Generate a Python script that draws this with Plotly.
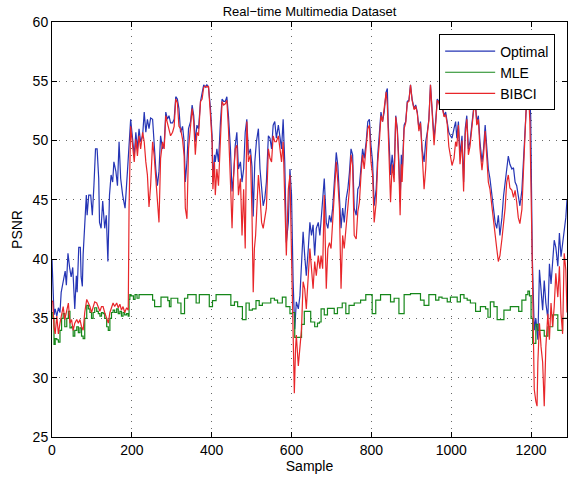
import plotly.graph_objects as go

# ---------------- data ----------------
opt_x = [0, 3, 5, 8, 12, 16, 20, 23, 27, 30, 33, 36, 40, 44, 48, 52, 55, 57, 61, 63, 67, 71, 73, 76, 78,
         82, 86, 88, 92, 97, 101, 105, 109, 113, 117, 119, 123, 127, 132, 136, 140, 144, 148, 152, 155,
         160, 164, 168, 172, 177, 183, 189, 193, 197, 202, 206, 210, 214, 218, 222, 227, 231, 235, 239,
         243, 247, 252, 256, 260, 264, 268, 272, 277, 281, 285, 289, 293, 297, 302, 306, 310, 314, 318,
         322, 327, 331, 334, 338, 342, 347, 351, 355, 359, 363, 367, 372, 376, 380, 384, 388, 392, 397,
         401, 403, 407, 409, 413, 417, 422, 426, 430, 434, 438, 442, 447, 451, 455, 459, 463, 467, 472,
         476, 480, 484, 488, 492, 497, 501, 504, 508, 512, 517, 521, 525, 529, 533, 537, 542, 546, 550,
         554, 558, 562, 567, 571, 575, 579, 583, 587, 592, 596, 600, 604, 608, 612, 617, 621, 625, 629,
         633, 637, 642, 646, 650, 654, 658, 662, 667, 671, 675, 679, 682, 687, 691, 695, 699, 703, 707,
         712, 716, 720, 724, 728, 732, 737, 741, 745, 749, 753, 757, 762, 766, 770, 774, 778, 782, 787,
         791, 795, 799, 803, 807, 812, 816, 820, 824, 828, 832, 837, 840, 842, 845, 848, 852, 857, 861,
         865, 869, 872, 875, 877, 882, 886, 890, 894, 898, 902, 907, 911, 915, 919, 923, 927, 932, 936,
         940, 944, 948, 952, 957, 961, 965, 969, 973, 977, 982, 986, 990, 994, 998, 1002, 1007, 1011,
         1014, 1018, 1022, 1027, 1031, 1035, 1039, 1043, 1047, 1052, 1056, 1060, 1064, 1068, 1072, 1077,
         1081, 1085, 1089, 1093, 1097, 1102, 1106, 1110, 1114, 1118, 1122, 1127, 1131, 1135, 1139, 1143,
         1147, 1152, 1156, 1160, 1164, 1168, 1172, 1177, 1181, 1185, 1189, 1192, 1195, 1199, 1203, 1206,
         1208, 1212, 1217, 1221, 1225, 1229, 1233, 1237, 1242, 1246, 1250, 1254, 1258, 1262, 1267, 1271,
         1275, 1279, 1283, 1287, 1290]
opt_y = [40.0, 37.0, 35.3, 35.8, 35.2, 35.9, 35.5, 37.2, 38.0, 38.6, 39.0, 37.8, 40.5, 39.3, 38.5, 39.3,
         37.5, 35.8, 38.6, 37.2, 41.0, 41.0, 38.5, 37.7, 40.4, 42.6, 45.4, 43.7, 45.4, 45.4, 43.7, 46.2,
         49.3, 49.3, 46.8, 43.1, 42.6, 44.9, 42.6, 43.7, 39.8, 45.4, 47.1, 46.5, 48.2, 47.4, 46.2, 49.9,
         46.8, 45.4, 44.3, 47.4, 49.3, 51.8, 50.1, 48.7, 50.7, 49.3, 51.0, 49.9, 50.4, 52.4, 50.7, 51.8,
         51.0, 51.9, 51.8, 49.3, 47.6, 46.2, 47.4, 50.4, 49.3, 49.6, 52.4, 51.8, 52.1, 51.5, 51.5, 51.8,
         53.7, 53.5, 52.7, 50.7, 51.2, 49.9, 46.5, 48.2, 51.0, 51.6, 53.0, 52.1, 49.9, 51.3, 51.0, 53.3,
         54.1, 54.7, 54.5, 54.7, 54.5, 52.7, 50.4, 46.5, 48.8, 48.2, 49.3, 48.2, 51.6, 53.5, 53.3, 53.3,
         53.7, 52.1, 49.3, 45.7, 47.1, 49.6, 50.7, 47.6, 48.2, 46.5, 47.6, 50.7, 51.8, 48.8, 49.3, 47.8,
         43.6, 48.2, 49.9, 51.0, 47.6, 46.2, 44.5, 45.1, 46.5, 50.4, 50.2, 49.3, 51.3, 51.6, 50.2, 51.3,
         50.4, 49.3, 51.8, 48.2, 41.4, 43.1, 47.6, 45.4, 38.1, 34.1, 36.4, 35.8, 36.9, 39.8, 42.3, 40.3,
         38.6, 40.9, 43.1, 42.0, 42.9, 40.3, 42.6, 43.1, 42.0, 43.7, 45.4, 46.8, 43.1, 42.6, 43.7, 43.1,
         44.3, 46.5, 49.0, 47.9, 45.4, 42.6, 44.3, 43.1, 45.1, 45.9, 47.3, 49.3, 48.8, 44.3, 43.7, 45.9,
         46.2, 48.2, 49.3, 48.5, 49.9, 51.6, 51.8, 49.6, 48.2, 44.5, 45.9, 48.8, 50.7, 52.4, 51.6, 52.4,
         54.1, 54.4, 51.6, 48.8, 47.1, 48.8, 47.1, 52.1, 51.0, 48.2, 44.8, 48.8, 47.1, 51.3, 51.6, 53.3,
         53.4, 54.7, 53.5, 52.7, 53.0, 52.4, 51.0, 51.6, 49.3, 48.2, 49.9, 50.7, 51.8, 54.7, 52.7, 50.2,
         51.6, 53.5, 53.3, 52.7, 53.0, 52.1, 52.4, 51.6, 50.7, 50.4, 50.2, 51.0, 51.6, 50.2, 51.6, 48.8,
         50.4, 46.5, 51.0, 52.1, 49.3, 49.9, 51.6, 52.7, 53.3, 51.6, 52.1, 49.9, 48.2, 49.3, 51.3, 49.3,
         47.6, 46.8, 45.4, 44.3, 43.1, 42.6, 43.7, 42.0, 43.5, 45.3, 46.4, 47.5, 48.7, 48.0, 47.6, 47.7,
         46.5, 46.2, 45.2, 44.5, 45.8, 48.6, 51.5, 54.0, 55.3, 54.6, 52.1, 40.3, 36.0, 34.0, 35.0, 33.2,
         39.1, 37.4, 35.7, 38.2, 36.3, 35.0, 39.6, 37.9, 39.6, 41.6, 41.0, 39.4, 42.2, 40.2, 41.3, 42.5,
         43.5, 45.0]

bib_x = [0, 2, 5, 8, 12, 16, 20, 24, 28, 32, 37, 41, 45, 49, 53, 57, 62, 66, 70, 74, 78, 82, 87, 91, 95,
         99, 103, 107, 112, 116, 120, 124, 128, 132, 137, 141, 145, 149, 153, 157, 162, 166, 170, 174,
         178, 182, 187, 191, 193, 197, 202, 206, 210, 214, 218, 222, 227, 231, 235, 239, 243, 247, 252,
         256, 260, 264, 268, 272, 277, 281, 285, 289, 293, 297, 302, 306, 310, 314, 318, 322, 327, 331,
         334, 338, 342, 347, 351, 355, 359, 363, 367, 372, 376, 380, 384, 388, 392, 397, 401, 403, 407,
         409, 413, 417, 422, 426, 430, 434, 438, 442, 447, 451, 455, 459, 463, 467, 472, 476, 480, 484,
         488, 492, 497, 501, 504, 507, 510, 513, 517, 521, 525, 529, 533, 537, 542, 546, 550, 554, 558,
         562, 567, 571, 575, 579, 583, 587, 592, 596, 600, 604, 607, 610, 612, 617, 621, 625, 629, 633,
         637, 642, 646, 650, 654, 658, 662, 667, 671, 674, 678, 682, 687, 691, 695, 699, 703, 707, 712,
         716, 720, 724, 728, 732, 737, 741, 745, 749, 753, 757, 762, 766, 770, 774, 778, 782, 787, 791,
         795, 799, 803, 807, 812, 816, 820, 824, 828, 832, 837, 840, 842, 845, 848, 852, 857, 861, 865,
         869, 872, 875, 877, 882, 886, 890, 894, 898, 902, 907, 911, 915, 919, 923, 927, 932, 936, 940,
         944, 948, 952, 957, 961, 965, 969, 973, 977, 982, 986, 990, 994, 998, 1002, 1007, 1011, 1014,
         1018, 1022, 1027, 1031, 1035, 1039, 1043, 1047, 1052, 1056, 1060, 1064, 1068, 1072, 1077, 1081,
         1085, 1089, 1093, 1097, 1102, 1106, 1110, 1114, 1118, 1122, 1127, 1131, 1135, 1139, 1143, 1147,
         1152, 1156, 1160, 1164, 1168, 1172, 1177, 1181, 1185, 1189, 1191, 1194, 1197, 1202, 1206, 1208,
         1212, 1215, 1217, 1221, 1225, 1229, 1233, 1237, 1242, 1246, 1250, 1254, 1258, 1262, 1267, 1271,
         1275, 1279, 1283, 1287, 1290]
bib_y = [36.5, 36.4, 34.3, 33.7, 35.2, 33.7, 34.6, 35.5, 36.0, 34.9, 35.7, 36.3, 34.6, 34.9, 34.0, 34.6,
         34.9, 34.6, 34.9, 34.3, 34.0, 35.5, 36.6, 36.3, 36.0, 35.5, 36.0, 36.4, 36.3, 36.0, 35.6, 36.0,
         36.0, 35.5, 34.9, 34.6, 35.5, 36.0, 36.3, 36.0, 36.3, 35.9, 36.2, 35.7, 36.0, 35.5, 35.9, 35.7,
         44.3, 51.2, 49.3, 48.2, 50.1, 48.7, 50.4, 49.3, 50.7, 49.9, 48.2, 47.1, 44.4, 46.2, 49.9, 48.7,
         46.8, 44.5, 43.1, 48.5, 49.9, 49.3, 52.1, 51.5, 51.0, 50.4, 50.7, 51.2, 53.5, 53.2, 51.2, 51.0,
         50.1, 48.7, 44.3, 43.4, 49.3, 51.0, 52.7, 51.6, 48.8, 50.7, 50.4, 53.3, 53.5, 54.5, 54.6, 54.5,
         54.6, 52.1, 49.9, 45.9, 48.2, 45.4, 47.6, 46.2, 51.0, 53.3, 53.0, 53.1, 53.4, 51.0, 46.5, 42.6,
         47.1, 49.3, 49.6, 45.4, 46.8, 42.0, 45.9, 40.9, 51.6, 48.2, 48.8, 43.7, 37.2, 40.9, 42.0, 44.3,
         47.1, 45.4, 43.1, 42.6, 43.4, 44.3, 49.3, 48.5, 48.2, 50.4, 49.9, 49.9, 50.4, 49.3, 48.2, 49.9,
         44.3, 40.3, 45.9, 47.1, 40.3, 34.7, 28.7, 32.4, 33.6, 31.0, 32.4, 34.1, 38.1, 37.5, 35.8, 38.6,
         40.9, 39.2, 37.5, 39.8, 38.6, 40.3, 39.2, 40.3, 39.2, 45.4, 37.5, 40.9, 41.4, 40.9, 43.1, 45.4,
         48.2, 46.5, 44.3, 37.5, 42.0, 40.9, 42.6, 44.3, 45.9, 48.8, 47.9, 42.0, 41.7, 44.0, 44.8, 47.1,
         48.8, 47.6, 49.3, 51.0, 51.3, 48.2, 47.1, 43.1, 44.8, 48.2, 49.9, 52.1, 51.6, 52.7, 54.1, 53.0,
         50.5, 47.0, 44.8, 48.0, 46.5, 52.0, 50.8, 47.5, 43.7, 48.0, 46.5, 51.0, 51.5, 53.2, 53.3, 54.7,
         53.4, 52.6, 52.9, 52.3, 50.8, 51.5, 48.8, 45.9, 47.6, 50.5, 51.7, 54.7, 52.5, 49.6, 51.4, 53.4,
         53.2, 52.6, 52.9, 52.0, 52.2, 51.4, 49.5, 48.8, 47.9, 48.5, 49.9, 49.5, 51.3, 48.0, 50.0, 45.7,
         50.5, 51.8, 48.8, 49.5, 51.3, 52.5, 53.4, 51.3, 51.8, 49.3, 47.5, 48.8, 50.8, 48.6, 46.5, 45.9,
         44.3, 43.1, 42.0, 40.9, 39.8, 40.3, 41.7, 43.1, 44.3, 46.5, 47.1, 46.0, 45.8, 45.2, 45.8, 44.8,
         43.5, 43.0, 44.2, 47.5, 50.5, 54.0, 55.3, 53.8, 51.6, 41.7, 30.1, 29.0, 28.0, 27.6, 31.3, 34.6,
         32.6, 31.3, 27.6, 32.6, 35.4, 33.2, 36.3, 34.3, 36.0, 38.8, 36.8, 39.4, 35.4, 33.7, 40.5, 39.1,
         35.5]

mle_x = [0, 2, 5, 8, 12, 16, 20, 24, 28, 32, 37, 41, 45, 49, 53, 57, 62, 66, 70, 74, 78, 82, 87, 91, 95,
         99, 103, 107, 112, 116, 120, 124, 128, 132, 137, 141, 145, 149, 153, 157, 162, 166, 170, 174,
         178, 182, 187, 191, 193, 195, 198, 204, 208, 213, 218, 252, 257, 273, 290, 294, 298, 315, 323,
         332, 340, 361, 369, 394, 402, 411, 448, 457, 465, 477, 486, 494, 502, 511, 519, 527, 548, 557,
         565, 577, 586, 596, 602, 608, 625, 632, 648, 658, 665, 670, 674, 682, 690, 707, 715, 727, 736,
         744, 757, 773, 786, 802, 811, 823, 848, 857, 869, 882, 898, 923, 932, 944, 961, 969, 977, 990,
         998, 1015, 1023, 1032, 1040, 1048, 1061, 1073, 1086, 1092, 1098, 1107, 1115, 1132, 1148, 1169,
         1177, 1187, 1192, 1196, 1200, 1204, 1212, 1217, 1233, 1242, 1254, 1267, 1279, 1290]
mle_y = [35.5, 35.0, 32.8, 33.3, 33.2, 33.0, 34.0, 35.0, 35.4, 34.3, 35.0, 35.6, 34.2, 34.3, 33.5, 34.0,
         34.3, 33.8, 34.2, 33.5, 33.3, 35.0, 36.1, 35.8, 35.5, 35.0, 35.5, 35.9, 35.6, 35.4, 35.2, 35.5,
         35.4, 35.0, 34.3, 34.0, 35.0, 35.5, 35.7, 35.5, 35.8, 35.4, 35.6, 35.2, 35.5, 35.3, 35.4, 35.2,
         36.6, 37.0, 36.9, 36.6, 37.0, 36.7, 37.0, 36.55, 36.0, 36.8, 36.5, 36.0, 36.7, 36.3, 35.4,
         36.7, 37.0, 36.3, 37.0, 36.0, 36.5, 37.0, 36.1, 36.4, 36.0, 34.9, 36.3, 35.7, 35.8, 36.5, 36.1,
         36.3, 36.7, 36.55, 36.3, 36.8, 36.0, 35.4, 35.5, 33.4, 34.5, 35.6, 34.7, 34.3, 34.6, 34.7,
         35.8, 35.3, 35.85, 35.4, 35.9, 36.3, 35.4, 36.1, 36.3, 36.55, 37.0, 35.4, 36.55, 37.0, 36.4,
         36.7, 35.4, 37.0, 37.1, 36.55, 36.1, 37.0, 36.55, 36.8, 36.7, 36.4, 36.8, 36.4, 37.0, 36.7,
         36.55, 36.3, 35.6, 36.0, 35.8, 35.1, 36.4, 36.0, 34.9, 35.7, 36.0, 35.6, 36.55, 37.0, 37.3,
         36.9, 35.0, 32.9, 34.5, 34.0, 33.5, 34.3, 35.3, 34.0, 35.0, 35.0]

x_ticks = [0, 200, 400, 600, 800, 1000, 1200]
y_ticks = [25, 30, 35, 40, 45, 50, 55, 60]

# ---------------- figure ----------------
font_family = "Liberation Sans, Arial, Helvetica, sans-serif"

fig = go.Figure()
fig.add_trace(go.Scatter(x=opt_x, y=opt_y, mode="lines", name="Optimal",
                         line=dict(color="#2535b5", width=1.2)))
fig.add_trace(go.Scatter(x=mle_x, y=mle_y, mode="lines", name="MLE", line_shape="hv",
                         line=dict(color="#16871a", width=1.2)))
fig.add_trace(go.Scatter(x=bib_x, y=bib_y, mode="lines", name="BIBCI",
                         line=dict(color="#e8262a", width=1.2)))

axis_common = dict(
    showline=True, linecolor="black", linewidth=1, mirror="allticks",
    ticks="inside", ticklen=5, tickcolor="black",
    showgrid=True, gridcolor="rgba(40,40,40,0.7)", gridwidth=1, griddash="1px,6px",
    zeroline=False, tickfont=dict(size=14, color="black", family=font_family),
)

fig.update_xaxes(range=[0, 1290], tickvals=x_ticks,
                 title=dict(text="Sample", font=dict(size=14, color="black", family=font_family),
                            standoff=4),
                 **axis_common)
fig.update_yaxes(range=[25, 60], tickvals=y_ticks,
                 title=dict(text="PSNR", font=dict(size=14, color="black", family=font_family),
                            standoff=6),
                 **axis_common)

fig.update_layout(
    width=568, height=484,
    margin=dict(l=52, r=1, t=22, b=47),
    paper_bgcolor="white", plot_bgcolor="white",
    title=dict(text="Real\u2212time Multimedia Dataset", x=0.545, xanchor="center",
               y=0.985, yanchor="top",
               font=dict(size=13, color="black", family=font_family)),
    legend=dict(x=0.977, y=0.97, xanchor="right", yanchor="top",
                bgcolor="white", bordercolor="black", borderwidth=1,
                font=dict(size=14, color="black", family=font_family),
                tracegroupgap=0, itemwidth=50),
    showlegend=True,
)

fig.write_html("out.html")
